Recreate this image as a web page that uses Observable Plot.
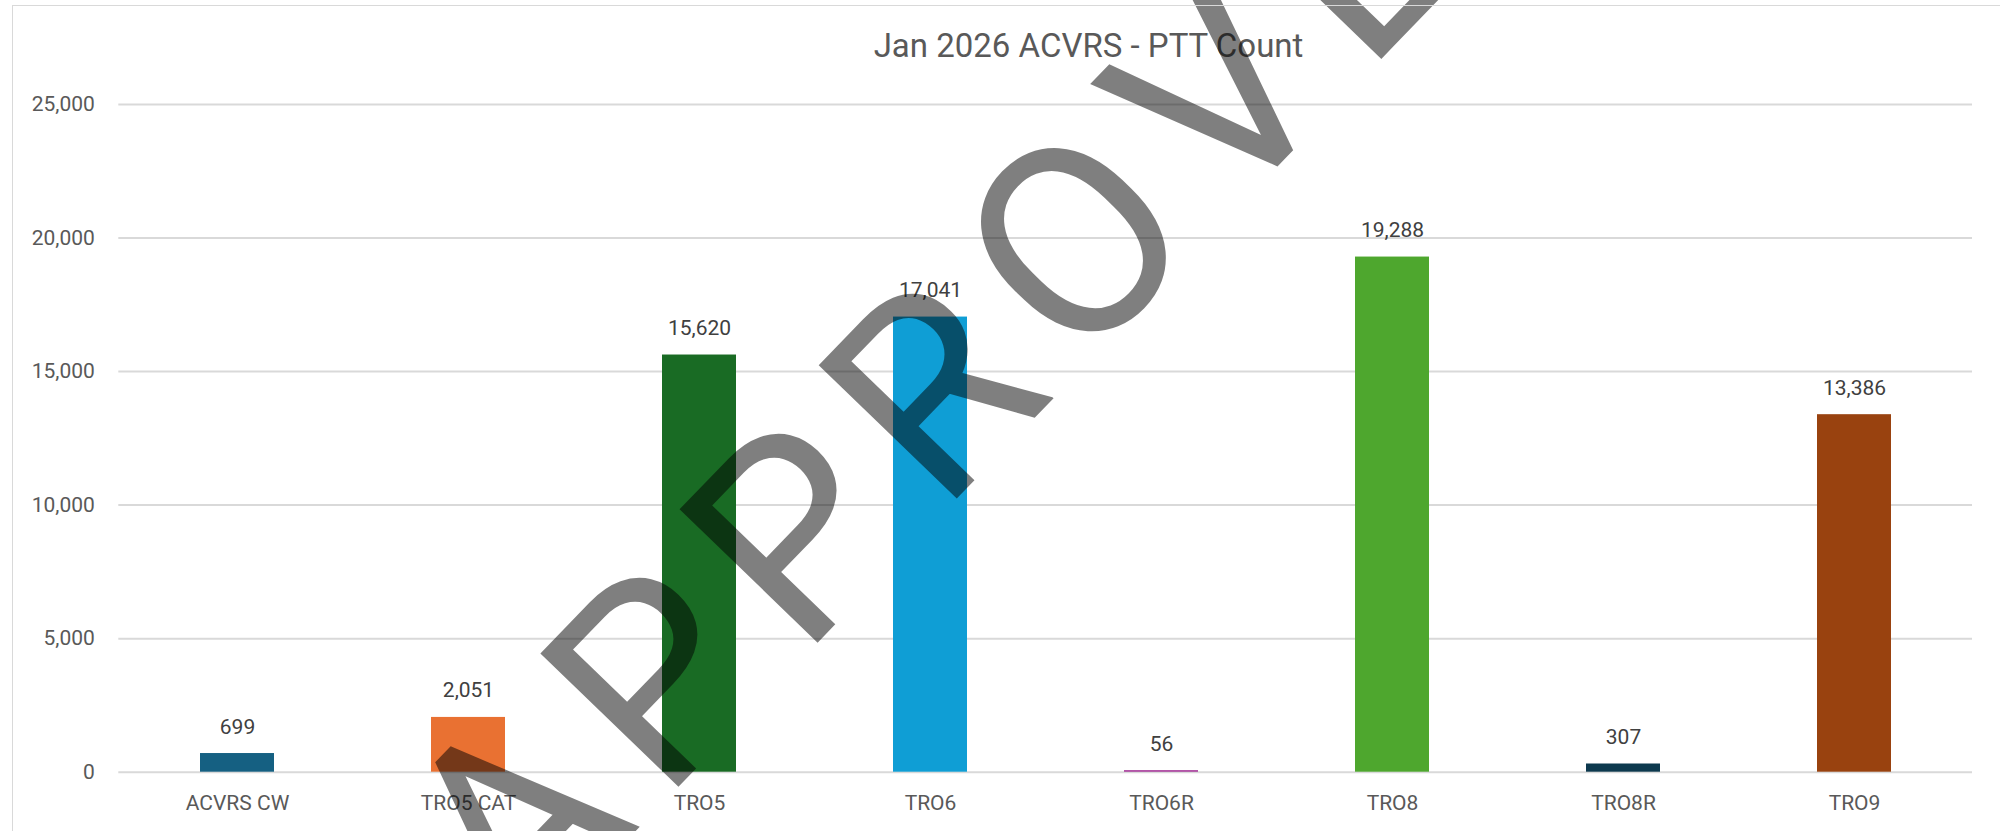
<!DOCTYPE html>
<html>
<head>
<meta charset="utf-8">
<script src="https://cdn.jsdelivr.net/npm/d3@7"></script>
<script src="https://cdn.jsdelivr.net/npm/@observablehq/plot@0.6"></script>
<style>
  html, body { margin: 0; padding: 0; background: #fff; }
  #wrap { position: relative; width: 2000px; height: 831px; overflow: hidden; }
  #border { position: absolute; left: 12px; top: 5px; width: 2100px; height: 900px;
            border-left: 1.5px solid #d9d9d9; border-top: 1.5px solid #d9d9d9; pointer-events: none; }
</style>
</head>
<body>
<div id="wrap"><div id="border"></div></div>
<script>
const categories = ["ACVRS CW", "TRO5 CAT", "TRO5", "TRO6", "TRO6R", "TRO8", "TRO8R", "TRO9"];
const values = [699, 2051, 15620, 17041, 56, 19288, 307, 13386];
const colors = ["#156082", "#E97132", "#196B24", "#0F9ED5", "#A02B93", "#4EA72E", "#0D394E", "#99420F"];
const yTicks = [0, 5000, 10000, 15000, 20000, 25000];
const title = "Jan 2026 ACVRS - PTT Count";
const watermark = "APPROVED";

const data = categories.map((c, i) => ({cat: c, val: values[i]}));
const fmt = d3.format(",");
const FONT = "Roboto, 'Liberation Sans', Arial, sans-serif";

const chart = Plot.plot({
  width: 2000,
  height: 831,
  marginLeft: 118.3,
  marginRight: 28,
  marginTop: 104,
  marginBottom: 59.3,
  style: {fontFamily: FONT, background: "transparent", overflow: "visible"},
  x: {type: "band", domain: categories, paddingInner: 0.68, paddingOuter: 0.34, axis: null},
  y: {domain: [0, 25000], axis: null},
  color: {domain: categories, range: colors},
  marks: [
    Plot.ruleY(yTicks, {stroke: "#d9d9d9", strokeWidth: 2}),
    Plot.barY(data, {x: "cat", y: "val", fill: "cat"}),
    Plot.axisY(yTicks, {tickSize: 0, tickPadding: 24, tickFormat: fmt, fontSize: 21, fill: "#595959", label: null}),
    Plot.axisX({tickSize: 0, tickPadding: 23, fontSize: 21, fill: "#595959", label: null}),
    Plot.text(data, {x: "cat", y: "val", text: d => fmt(d.val), dy: -20, lineAnchor: "bottom",
      fontSize: 21, fill: "#404040"}),
    Plot.text([title], {frameAnchor: "top-left", dx: 1088 - 118.3, dy: 56.7 - 104, text: d => d,
      textAnchor: "middle", lineAnchor: "bottom", fontSize: 33, fill: "#595959"}),
    Plot.text([watermark], {frameAnchor: "top-left", dx: 1078 - 118.3, dy: 372 - 104, text: d => d,
      textAnchor: "middle", lineAnchor: "bottom", rotate: -46, fontSize: 270, fontWeight: 400,
      fill: "black", fillOpacity: 0.5})
  ]
});
document.getElementById("wrap").prepend(chart);
chart.style.position = "absolute";
chart.style.left = "0";
chart.style.top = "0";
d3.select(chart).selectAll("text").filter(function () { return this.textContent === watermark; })
  .style("letter-spacing", "30px");
</script>
</body>
</html>
